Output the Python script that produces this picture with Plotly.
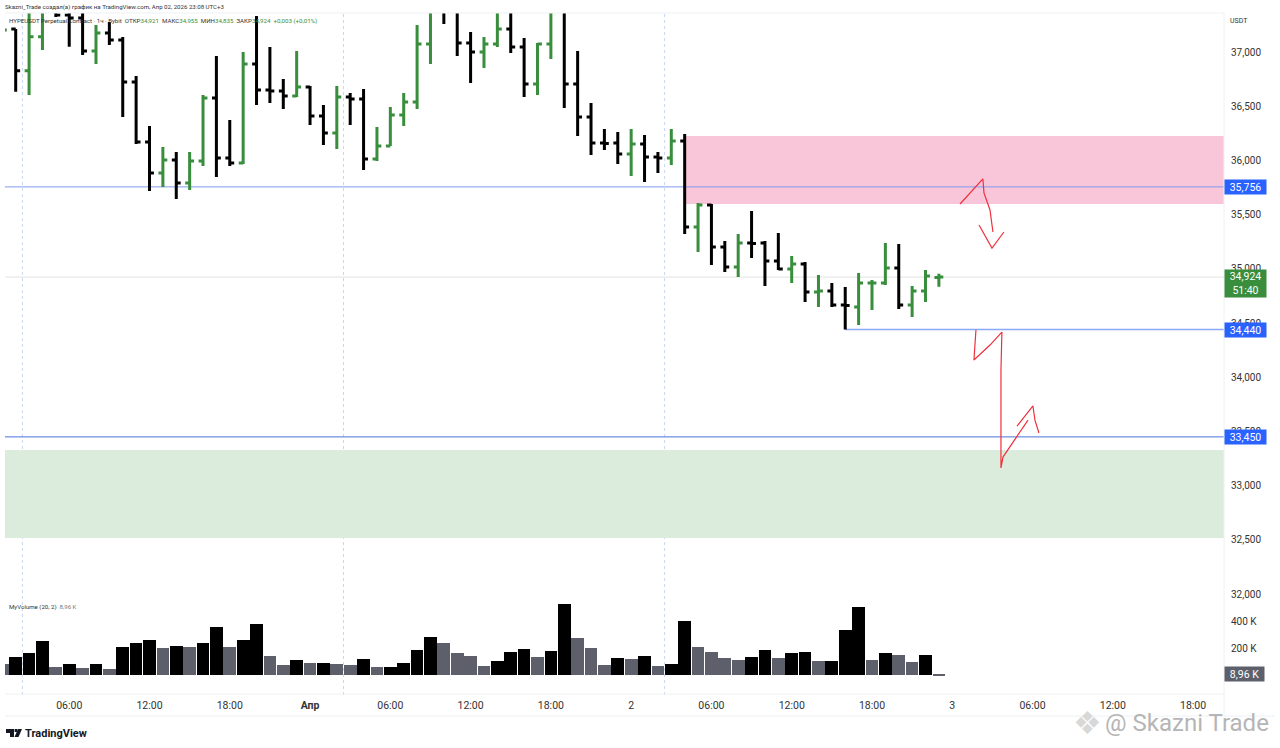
import plotly.graph_objects as go

# hourly bars, hour 24 = 1 Apr 00:00 on the chart
bar_hour = list(range(1, 72))
bar_open = [36950, 37212, 36828, 37141, 37434, 37342, 37314, 37010, 37176, 37111,
            36724, 36170, 35884, 36004, 35792, 35995, 36576, 36022, 35976, 36890,
            36650, 36641, 36594, 36677, 36410, 36253, 36585, 36567, 36013, 36133,
            36419, 36539, 37074, 37397, 37379, 37083, 37000, 37074, 37212, 37046,
            36705, 37074, 37379, 36705, 36401, 36161, 36161, 36059, 36152, 36032,
            36022, 36179, 35386, 35589, 35201, 35017, 35238, 35238, 35072, 34998,
            35045, 34786, 34796, 34666, 34648, 34869, 34869, 35008, 34666, 34796,
            34921]
bar_high = [37249, 37212, 37434, 37406, 37460, 37434, 37406, 37249, 37277, 37139,
            36779, 36318, 36124, 36078, 36078, 36604, 36963, 36373, 37000, 37332,
            37046, 36751, 37010, 36687, 36511, 36687, 36622, 36659, 36308, 36493,
            36622, 37249, 37452, 37460, 37450, 37185, 37139, 37434, 37434, 37129,
            37083, 37434, 37434, 37010, 36530, 36290, 36262, 36290, 36235, 36078,
            36290, 36244, 35607, 35598, 35257, 35321, 35534, 35257, 35331, 35118,
            35063, 34943, 34869, 34832, 34962, 34897, 35238, 35229, 34842, 34989,
            34955]
bar_low = [36926, 36634, 36604, 37019, 37323, 37049, 36973, 36890, 37065, 36401,
           36152, 35718, 35755, 35644, 35727, 35949, 35847, 35949, 35967, 36511,
           36530, 36474, 36585, 36327, 36142, 36105, 36327, 35912, 35995, 36133,
           36318, 36474, 36890, 37259, 36963, 36714, 36853, 37046, 36991, 36585,
           36604, 36936, 36484, 36225, 36050, 36096, 35967, 35856, 35801, 35884,
           35958, 35321, 35155, 35035, 34971, 34925, 35100, 34842, 34989, 34869,
           34694, 34648, 34648, 34440, 34482, 34620, 34851, 34629, 34556, 34694,
           34835]
bar_close = [37203, 36828, 37141, 37388, 37342, 37314, 37010, 37176, 37111, 36724,
             36170, 35884, 36004, 35792, 35995, 36576, 36022, 35976, 36890, 36650,
             36641, 36594, 36677, 36410, 36253, 36585, 36567, 36013, 36133, 36419,
             36539, 37074, 37397, 37388, 37083, 37000, 37074, 37212, 37046, 36705,
             37074, 37379, 36705, 36401, 36161, 36156, 36059, 36152, 36032, 36022,
             36179, 35386, 35589, 35201, 35017, 35238, 35233, 35072, 34998, 35045,
             34786, 34796, 34666, 34661, 34869, 34870, 35008, 34666, 34796, 34934,
             34924]

volume = [84, 131, 163, 252, 59, 84, 49, 84, 44, 205, 235, 259, 200, 215, 205, 235,
          356, 210, 259, 380, 143, 77, 111, 86, 86, 81, 72, 116, 57, 59, 91, 188, 281,
          237, 160, 138, 64, 104, 168, 190, 131, 178, 526, 274, 202, 77, 128, 121, 143,
          64, 79, 398, 207, 170, 123, 114, 131, 185, 126, 160, 170, 106, 106, 336, 504,
          114, 160, 151, 99, 146, 8.96]
volume_dark = [0, 1, 1, 1, 0, 1, 0, 1, 0, 1, 1, 1, 0, 1, 0, 1, 1, 0, 1, 1, 0, 0, 1, 0,
               1, 0, 0, 1, 0, 1, 1, 1, 1, 0, 0, 0, 0, 1, 1, 1, 0, 1, 1, 0, 0, 0, 1, 0,
               1, 0, 1, 1, 0, 0, 0, 0, 1, 1, 0, 1, 1, 0, 1, 1, 1, 0, 1, 0, 0, 1, 0]

time_ticks = [6, 12, 18, 24, 30, 36, 42, 48, 54, 60, 66, 72, 78, 84, 90]
time_labels = ["06:00", "12:00", "18:00", "<b>Апр</b>", "06:00", "12:00", "18:00", "2",
               "06:00", "12:00", "18:00", "3", "06:00", "12:00", "18:00"]
price_ticks = [37000, 36500, 36000, 35500, 35000, 34500, 34000, 33500, 33000, 32500, 32000]
volume_ticks = [200, 400]
volume_labels = ["200 K", "400 K"]
session_breaks = [2.5, 26.5, 50.5]

# hand drawn red arrows
arrow_a_x = [72.58, 74.29, 74.37, 74.82, 75.04]
arrow_a_y = [35598, 35829, 35700, 35543, 35340]
head_a_x = [74.0, 74.97, 75.86]
head_a_y = [35404, 35192, 35340]
arrow_b_x = [73.77, 73.62, 74.82, 75.71, 75.64, 75.64, 75.79, 77.66]
arrow_b_y = [34436, 34159, 34297, 34417, 34067, 33163, 33264, 33605]
head_b_x = [76.84, 78.03, 78.18, 78.48]
head_b_y = [33550, 33735, 33605, 33486]

X_RANGE = [1.2, 92.31]
GREEN = "#388e3c"
BLUE = "#2962ff"
GRAY = "#5d606b"
FONT = "Roboto"

fig = go.Figure()

fig.add_trace(go.Bar(
    x=bar_hour, y=volume, width=0.95, yaxis="y2",
    marker_color=["#000000" if d else GRAY for d in volume_dark],
    marker_line_width=0,
))
fig.add_trace(go.Ohlc(
    x=bar_hour, open=bar_open, high=bar_high, low=bar_low, close=bar_close,
    tickwidth=0.33,
    increasing_line_color=GREEN, increasing_line_width=3,
    decreasing_line_color="#000000", decreasing_line_width=3,
))
for xs, ys in [(arrow_a_x, arrow_a_y), (head_a_x, head_a_y),
               (arrow_b_x, arrow_b_y), (head_b_x, head_b_y)]:
    fig.add_trace(go.Scatter(x=xs, y=ys, mode="lines",
                             line=dict(color="#f0303c", width=1.2)))

shapes = [
    dict(type="rect", x0=52.1, x1=X_RANGE[1], y0=35598, y1=36225, layer="below",
         fillcolor="#f9c5d8", line_width=0),
    dict(type="rect", x0=X_RANGE[0], x1=X_RANGE[1], y0=32517, y1=33329, layer="below",
         fillcolor="#dcecdc", line_width=0),
    dict(type="line", x0=X_RANGE[0], x1=X_RANGE[1], y0=35756, y1=35756, layer="below",
         line=dict(color="#7f9cf0", width=1)),
    dict(type="line", x0=64, x1=X_RANGE[1], y0=34440, y1=34440, layer="below",
         line=dict(color="#8aa8f8", width=1.5)),
    dict(type="line", x0=X_RANGE[0], x1=X_RANGE[1], y0=33450, y1=33450, layer="below",
         line=dict(color="#4a72e0", width=1)),
    dict(type="line", x0=X_RANGE[0], x1=X_RANGE[1], y0=34924, y1=34924, layer="below",
         line=dict(color="#e2e2e2", width=1)),
]
for hour in session_breaks:
    shapes.append(dict(type="line", x0=hour, x1=hour, yref="paper", y0=0, y1=1,
                       layer="below", line=dict(color="#c6d6f5", width=1, dash="dot")))


def paper(px, py):
    return (px - 5) / 1219, (695 - py) / 682


# chart frame, light lines around the panes
for a, b in [((5, 13), (1224, 13)), ((5, 694), (1224, 694)), ((5, 716), (1275, 716)),
             ((1224, 13), (1224, 716))]:
    x0, y0 = paper(*a)
    x1, y1 = paper(*b)
    shapes.append(dict(type="line", xref="paper", yref="paper", x0=x0, x1=x1, y0=y0, y1=y1,
                       line=dict(color="#eef0f3", width=1)))


def logo_path(points):
    parts = []
    for i, p in enumerate(points):
        x, y = paper(*p)
        parts.append(("M" if i == 0 else "L") + f"{x:.5f},{y:.5f}")
    return " ".join(parts) + " Z"


# TradingView mark: the T, the dot and the V
for outline in [[(6, 729), (14, 729), (14, 737), (10, 737), (10, 733), (6, 733)],
                [(14.6, 729), (17.4, 729), (17.4, 732), (14.6, 732)],
                [(18, 729), (22, 729), (18.5, 737), (14.5, 737)]]:
    shapes.append(dict(type="path", xref="paper", yref="paper", path=logo_path(outline),
                       fillcolor="#131722", line_width=0))


def val(text):
    return f"<span style='color:{GREEN}'>{text}</span>"


def px_text(px, py, text, size, color="#131722", anchor="left", **kw):
    x, y = paper(px, py)
    return dict(xref="paper", yref="paper", x=x, y=y, text=text, showarrow=False,
                xanchor=anchor, yanchor="middle", align="left",
                font=dict(family=FONT, size=size, color=color), **kw)


def price_label(px, py, text, color, height=14, width=41):
    x, y = paper(px, py)
    return dict(xref="paper", yref="paper", x=x, y=y, text=text, showarrow=False,
                xanchor="left", yanchor="middle", width=width, height=height, bgcolor=color,
                font=dict(family=FONT, size=10.5, color="#ffffff"), borderpad=0)


annotations = [
    px_text(3, 7, "Skazni_Trade создал(а) график на TradingView.com, Апр 02, 2026 23:08 UTC+3",
            6.1, "#333333"),
    px_text(7, 21, "HYPEUSDT Perpetual Contract · 1ч · Bybit  ОТКР" + val("34,921")
            + "  МАКС" + val("34,955") + "  МИН" + val("34,835") + "  ЗАКР" + val("34,924")
            + "  " + val("+0,003 (+0,01%)"), 6.15, "#333333"),
    px_text(7, 607, "MyVolume (20, 2)  <span style='color:#777'>8,96 K</span>", 6.1, "#333333"),
    px_text(1228, 21, "USDT", 7, "#333333"),
    price_label(1224, 187, "35,756", BLUE),
    price_label(1224, 283.5, "34,924<br>51:40", GREEN, height=27),
    price_label(1224, 330, "34,440", BLUE),
    price_label(1224, 437, "33,450", BLUE),
    price_label(1224, 674, "8,96 K", GRAY, width=39),
    px_text(23, 733, "<b>TradingView</b>", 11, "#131722"),
    px_text(1071, 723, "❖", 32, "#d8d8d8"),
    px_text(1103, 723, "@ Skazni Trade", 24, "#b5b5b5"),
]

fig.update_layout(
    width=1280, height=748,
    margin=dict(l=5, r=56, t=13, b=53, autoexpand=False),
    paper_bgcolor="#ffffff", plot_bgcolor="#ffffff",
    showlegend=False, bargap=0,
    font=dict(family=FONT, size=10.5, color="#333333"),
    xaxis=dict(range=X_RANGE, tickmode="array", tickvals=time_ticks, ticktext=time_labels,
               showgrid=False, zeroline=False, ticks="", rangeslider_visible=False,
               ticklabelstandoff=2),
    yaxis=dict(range=[31069, 37360], side="right", tickmode="array", tickvals=price_ticks,
               tickformat=",d", showgrid=False, zeroline=False, ticks="",
               ticklabelstandoff=6, tickfont_size=10),
    yaxis2=dict(range=[-148, 4903], side="right", overlaying="y", tickmode="array",
                tickvals=volume_ticks, ticktext=volume_labels, showgrid=False,
                zeroline=False, ticks="", ticklabelstandoff=6, tickfont_size=10),
    shapes=shapes,
    annotations=annotations,
)

# the page's default body margin would push the figure 8 px off
fig.write_html("out.html", config={"displayModeBar": False},
               post_script="document.body.style.margin = '0';")
